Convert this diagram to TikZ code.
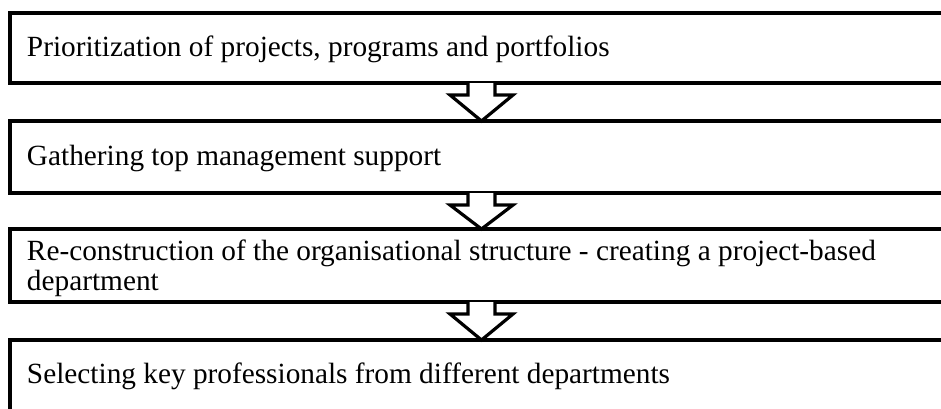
\documentclass[tikz,border=0pt]{standalone}
\usepackage{fontspec}
\setmainfont{Liberation Serif}
\usetikzlibrary{calc}
\begin{document}
\begin{tikzpicture}[x=1pt,y=-1pt,
  stagebox/.style={draw=black,line width=3.4pt,fill=white,rectangle,inner sep=0pt,outer sep=0pt,
    minimum width=960pt,minimum height=#1,anchor=north west},
  lbl/.style={inner sep=0pt,outer sep=0pt,anchor=base west,align=left,
    font=\fontsize{29.3}{30}\selectfont},
  blockarrow/.style={draw=black,line width=3.2pt,line join=miter}]
\useasboundingbox (0,0) rectangle (941,408);
\clip (0,0) rectangle (941,408);
\node[stagebox=70pt] (b1) at (10,13) {};
\node[stagebox=72pt] (b2) at (10,121) {};
\node[stagebox=73pt] (b3) at (10,229) {};
\node[stagebox=72pt] (b4) at (10,340) {};
\node[lbl] (t1) at (27,56) {Prioritization of projects, programs and portfolios};
\node[lbl] (t2) at (27,165) {Gathering top management support};
\node[lbl] (t3) at (27,290) {Re-construction of the organisational structure - creating a project-based\\department};
\node[lbl] (t4) at (27,383) {Selecting key professionals from different departments};
\foreach \u/\v in {b1/b2,b2/b3,b3/b4}{
  \coordinate (s) at ($(\u.south west)+(471.5,0)$);
  \coordinate (tip) at (s |- \v.north);
  \fill[white] ($(s)+(-13.5,0)$) -- ++(0,12) -- ++(-18,0) -- (tip) -- ($(s)+(31.5,12)$) -- ++(-18,0) -- ++(0,-12) -- cycle;
  \draw[blockarrow] ($(s)+(-13.5,0)$) -- ++(0,12) -- ++(-18,0) -- (tip) -- ($(s)+(31.5,12)$) -- ++(-18,0) -- ++(0,-12);
}
\end{tikzpicture}
\end{document}
